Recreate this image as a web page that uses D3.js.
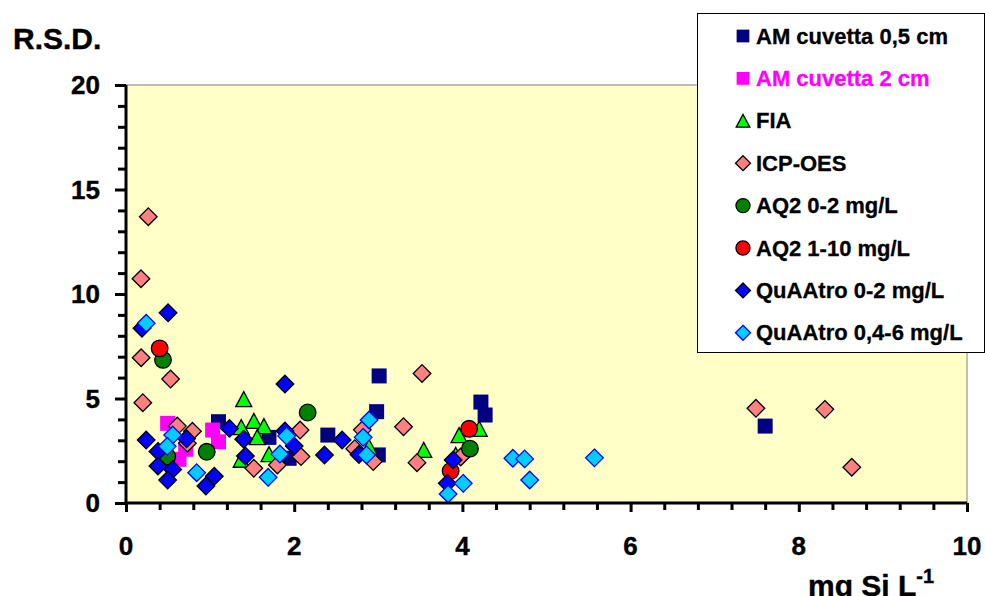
<!DOCTYPE html>
<html>
<head>
<meta charset="utf-8">
<script src="https://cdn.jsdelivr.net/npm/d3@7"></script>
<style>
  body { margin: 0; background: #fff; }
  svg { display: block; font-family: "Liberation Sans", Arial, sans-serif; font-weight: bold; }
</style>
</head>
<body>
<svg id="chart" width="985" height="596"></svg>
<script>
// series data: [mg Si/L, R.S.D.]
const amCuv05 = [[1.10, 3.89], [1.70, 3.14], [1.94, 2.14], [2.40, 3.25], [2.98, 4.37], [3.01, 6.08], [3.00, 2.30], [4.22, 4.83], [4.27, 4.21], [7.60, 3.68]];
const amCuv2 = [[0.495, 3.81], [0.71, 2.57], [0.63, 2.09], [1.03, 3.49], [1.10, 2.93]];
const fia = [[1.40, 4.97], [1.37, 3.63], [1.52, 3.93], [1.64, 3.68], [1.56, 3.15], [1.70, 2.34], [1.37, 2.07], [2.89, 2.69], [3.54, 2.54], [3.96, 3.25], [4.20, 3.55], [3.92, 2.30]];
const icpOes = [[0.265, 13.7], [0.178, 10.73], [0.18, 6.95], [0.20, 4.8], [0.53, 5.93], [0.61, 3.68], [0.79, 3.43], [0.73, 2.86], [1.52, 1.66], [1.80, 1.82], [2.07, 3.49], [2.08, 2.22], [2.81, 3.5], [2.72, 2.6], [2.94, 1.98], [3.30, 3.65], [3.46, 1.93], [3.52, 6.2], [3.98, 2.2], [7.49, 4.53], [8.31, 4.48], [8.63, 1.71]];
const aq2Low = [[0.44, 6.85], [0.49, 2.22], [0.96, 2.45], [2.16, 4.33], [4.09, 2.6]];
const aq2High = [[0.40, 7.4], [4.08, 3.55], [3.86, 1.53]];
const quaatroLow = [[0.19, 8.36], [0.50, 9.1], [0.24, 3.01], [0.38, 2.47], [0.38, 1.77], [0.555, 1.6], [0.495, 1.10], [0.72, 3.07], [1.05, 1.28], [0.95, 0.81], [1.23, 3.57], [1.40, 3.05], [1.42, 2.25], [1.89, 5.69], [1.89, 3.45], [2.00, 2.73], [2.36, 2.30], [2.57, 3.01], [2.77, 2.32], [3.89, 2.06], [3.82, 0.94]];
const quaatroHigh = [[0.24, 8.6], [0.555, 3.25], [0.49, 2.71], [0.84, 1.45], [1.69, 1.23], [1.91, 3.2], [1.83, 2.34], [2.89, 3.97], [2.82, 3.14], [2.86, 2.30], [3.83, 0.43], [4.01, 0.94], [4.60, 2.14], [4.74, 2.11], [4.80, 1.10], [5.57, 2.16]];

const xLabels = [0, 2, 4, 6, 8, 10];
const yLabels = [0, 5, 10, 15, 20];

const series = [
  { name: "AM cuvetta 0,5 cm", data: amCuv05, shape: "square", fill: "#000080", stroke: "none", text: "#000" },
  { name: "AM cuvetta 2 cm", data: amCuv2, shape: "square", fill: "#FF00FF", stroke: "none", text: "#FF00FF" },
  { name: "FIA", data: fia, shape: "triangle", fill: "#00FF00", stroke: "#000", text: "#000" },
  { name: "ICP-OES", data: icpOes, shape: "diamond", fill: "#FF8080", stroke: "#000", text: "#000" },
  { name: "AQ2 0-2 mg/L", data: aq2Low, shape: "circle", fill: "#008000", stroke: "#000", text: "#000" },
  { name: "AQ2 1-10 mg/L", data: aq2High, shape: "circle", fill: "#FF0000", stroke: "#000", text: "#000" },
  { name: "QuAAtro 0-2 mg/L", data: quaatroLow, shape: "diamond", fill: "#0000FF", stroke: "#000", text: "#000" },
  { name: "QuAAtro 0,4-6 mg/L", data: quaatroHigh, shape: "diamond", fill: "#00CCFF", stroke: "#0000FF", text: "#000" }
];

const svg = d3.select("#chart");
const plotLeft = 126, plotRight = 967, plotTop = 85, plotBottom = 503;

const x = d3.scaleLinear().domain([0, 10]).range([plotLeft, plotRight]);
const y = d3.scaleLinear().domain([0, 20]).range([plotBottom, plotTop]);

// marker path, k scales the size
function marker(shape, k = 1) {
  if (shape === "square") { const h = 7.5 * k; return `M${-h},${-h}H${h}V${h}H${-h}Z`; }
  if (shape === "diamond") { const h = 8.8 * k; return `M0,${-h}L${h},0L0,${h}L${-h},0Z`; }
  if (shape === "triangle") { const w = 8 * k, h = 7.5 * k; return `M0,${-h}L${w},${h}L${-w},${h}Z`; }
  const r = 8.3 * k;
  return `M${r},0A${r},${r} 0 1,1 ${-r},0A${r},${r} 0 1,1 ${r},0Z`;
}

// plot area
svg.append("rect")
  .attr("x", plotLeft).attr("y", plotTop)
  .attr("width", plotRight - plotLeft).attr("height", plotBottom - plotTop)
  .attr("fill", "#FFFFC8").attr("stroke", "#808080").attr("stroke-width", 1);

// points
series.forEach(s => {
  svg.append("g").selectAll("path")
    .data(s.data)
    .enter()
    .append("path")
    .attr("d", marker(s.shape))
    .attr("transform", d => `translate(${x(d[0])},${y(d[1])})`)
    .attr("fill", s.fill)
    .attr("stroke", s.stroke)
    .attr("stroke-width", s.stroke === "none" ? 0 : 1.3);
});

// y axis
const yAxis = svg.append("g").attr("transform", `translate(${plotLeft},0)`)
  .call(d3.axisLeft(y).tickValues(d3.range(0, 21, 1)).tickSize(8).tickFormat(""));
yAxis.selectAll(".tick line").attr("stroke-width", 3)
  .attr("x2", d => d % 5 === 0 ? -11 : -8);
yAxis.select(".domain").attr("stroke-width", 3).attr("d", `M0,${plotBottom + 1.5}V${plotTop}`);

yAxis.selectAll(".ylab")
  .data(yLabels)
  .enter()
  .append("text")
  .attr("x", -26)
  .attr("y", d => y(d) + 9)
  .attr("text-anchor", "end")
  .attr("font-size", 26)
  .attr("fill", "#000").attr("stroke", "#000").attr("stroke-width", 0.4)
  .text(d => d);

// x axis
const xAxis = svg.append("g").attr("transform", `translate(0,${plotBottom})`)
  .call(d3.axisBottom(x).tickValues(d3.range(0, 10.01, 0.4)).tickSize(7).tickFormat(""));
xAxis.selectAll(".tick line").attr("stroke-width", 3)
  .attr("y2", (d, i) => i % 5 === 0 ? 9 : 7);
xAxis.select(".domain").attr("stroke-width", 3).attr("d", `M${plotLeft - 1.5},0H${plotRight}`);

xAxis.selectAll(".xlab")
  .data(xLabels)
  .enter()
  .append("text")
  .attr("x", d => x(d))
  .attr("y", 52)
  .attr("text-anchor", "middle")
  .attr("font-size", 26)
  .attr("fill", "#000").attr("stroke", "#000").attr("stroke-width", 0.4)
  .text(d => d);

// axis titles
svg.append("text").attr("x", 13).attr("y", 49)
  .attr("font-size", 30).attr("fill", "#000").attr("stroke", "#000").attr("stroke-width", 0.4)
  .text("R.S.D.");

const xt = svg.append("text").attr("x", 808).attr("y", 596)
  .attr("font-size", 30).attr("fill", "#000").attr("stroke", "#000").attr("stroke-width", 0.4);
xt.append("tspan").text("mg Si L");
xt.append("tspan").attr("dy", -13).attr("font-size", 20).text("-1");

// legend
const legend = svg.append("g");
legend.append("rect")
  .attr("x", 697.5).attr("y", 13.5).attr("width", 287).attr("height", 339)
  .attr("fill", "#fff").attr("stroke", "#000").attr("stroke-width", 1);

const item = legend.selectAll(".item")
  .data(series)
  .enter()
  .append("g")
  .attr("transform", (d, i) => `translate(743,${36 + i * 42.4})`);

item.append("path")
  .attr("d", d => marker(d.shape, 0.85))
  .attr("fill", d => d.fill)
  .attr("stroke", d => d.stroke)
  .attr("stroke-width", d => d.stroke === "none" ? 0 : 1.3);

item.append("text")
  .attr("x", 13)
  .attr("y", 7.5)
  .attr("font-size", 22)
  .attr("fill", d => d.text)
  .attr("stroke", d => d.text).attr("stroke-width", 0.3)
  .text(d => d.name);
</script>
</body>
</html>
